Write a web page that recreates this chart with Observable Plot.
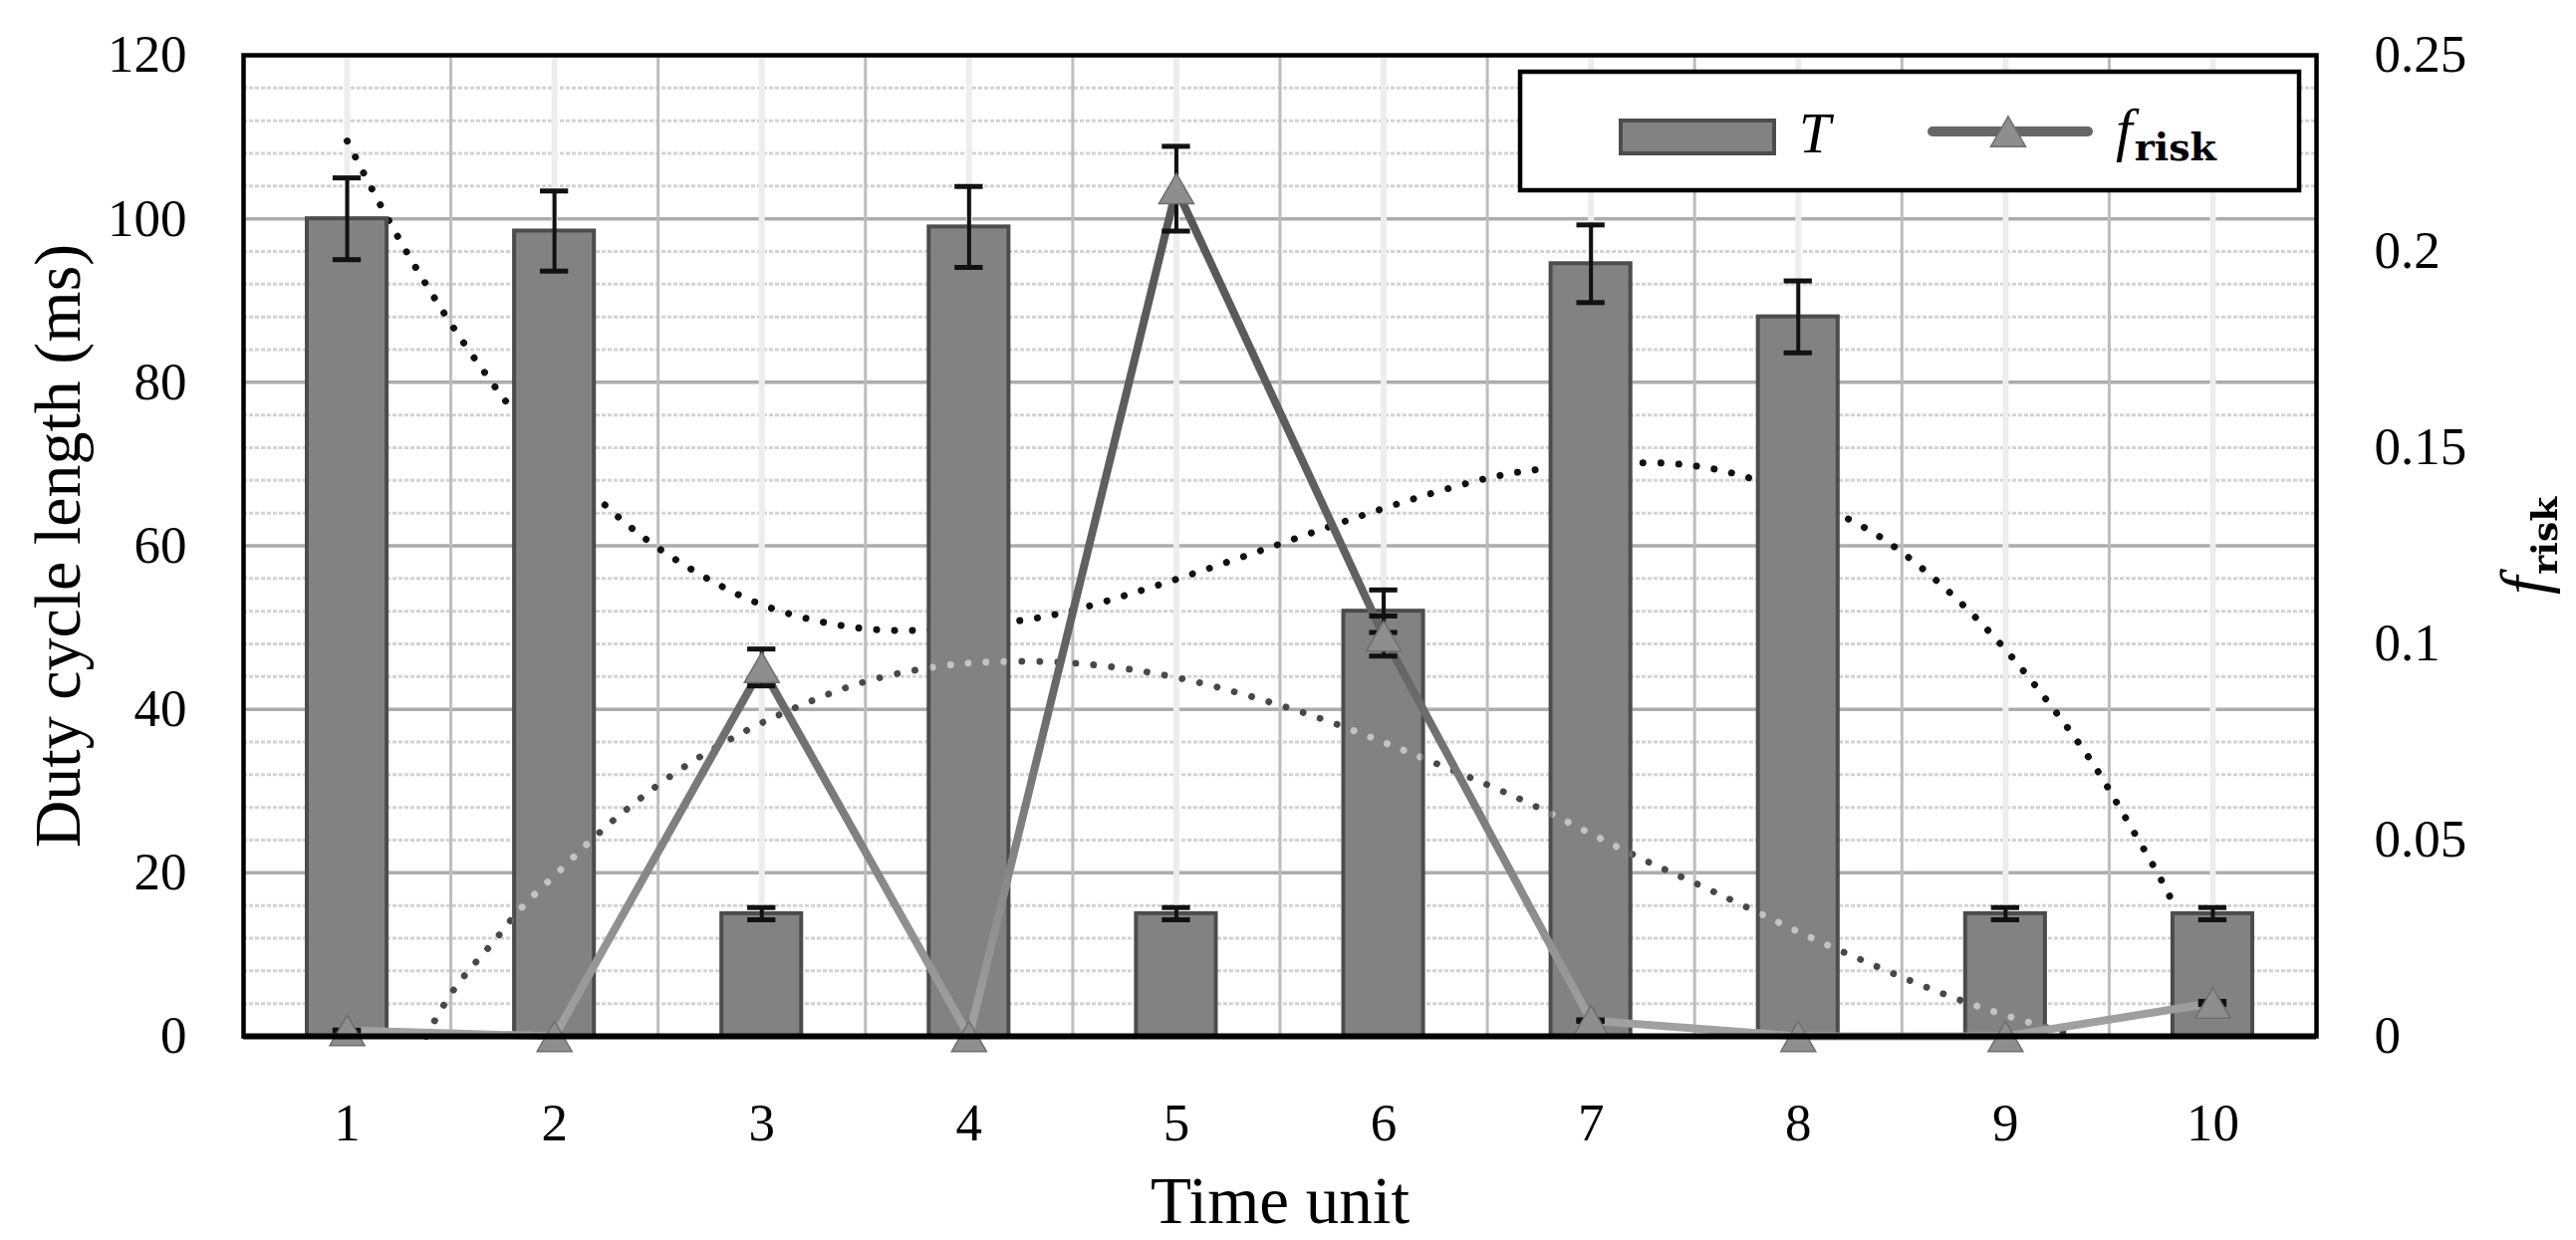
<!DOCTYPE html>
<html>
<head>
<meta charset="utf-8">
<script src="https://cdn.jsdelivr.net/npm/d3@7"></script>
<script src="https://cdn.jsdelivr.net/npm/@observablehq/plot@0.6"></script>
<style>
  html, body { margin: 0; padding: 0; background: #fff; }
  #wrap { position: relative; width: 2586px; height: 1245px; font-family: "Liberation Serif", "Times New Roman", serif; }
  #wrap svg.overlay { position: absolute; left: 0; top: 0; pointer-events: none; }
</style>
</head>
<body>
<div id="wrap"></div>
<script>
// ---------------- data ----------------
const timeUnits   = [1, 2, 3, 4, 5, 6, 7, 8, 9, 10];
const xTickLabels = ["1", "2", "3", "4", "5", "6", "7", "8", "9", "10"];

// Duty cycle length T (ms) and its error
const T     = [100, 98.5, 15, 99, 15, 52, 94.5, 88, 15, 15];
const T_err = [5, 4.9, 0.75, 4.95, 0.75, 2.6, 4.75, 4.4, 0.75, 0.75];

// f_risk (right axis) and its error
const fRisk     = [0.0015, 0, 0.094, 0, 0.216, 0.102, 0.004, 0, 0, 0.0085];
const fRisk_err = [0.0001, 0, 0.0047, 0, 0.0108, 0.0051, 0.0002, 0, 0, 0.0004];

// left axis ticks, right axis ticks
const yTicks      = [0, 20, 40, 60, 80, 100, 120];
const fTicks      = [0, 0.05, 0.1, 0.15, 0.2, 0.25];
const fTickLabels = ["0", "0.05", "0.1", "0.15", "0.2", "0.25"];

// trendline of T (black dotted) (left-axis units)
const trendT_x = [1.0, 1.16, 1.29, 1.43, 1.57, 1.73, 1.78, 2.20, 2.47, 2.77, 3.0, 3.25, 3.50, 3.77, 4.20, 4.46, 4.78, 5.11, 5.52, 6.0, 6.49, 6.75, 7.28, 7.53, 7.79, 8.27, 8.49, 8.76, 9.0, 9.22, 9.43, 9.56, 9.74, 9.82];
const trendT_y = [109.5, 101.6, 95.7, 89.9, 84.4, 78.9, 77, 65.7, 60, 55.4, 52.6, 50.8, 49.7, 49.5, 50.6, 51.7, 54.1, 56.8, 60.4, 64.7, 68.4, 69.5, 70.4, 69.8, 68.4, 63.2, 59.6, 53.8, 47.5, 40.5, 33.3, 27.5, 19.8, 15.7];

// trendline of f_risk (grey dotted) (right-axis units)
const trendF_x = [1.38, 1.50, 1.61, 1.73, 1.83, 2.03, 2.21, 2.41, 2.62, 2.92, 3.17, 3.40, 3.64, 3.90, 4.08, 4.34, 4.69, 5.02, 5.35, 5.69, 6.01, 6.33, 6.67, 6.96, 7.28, 7.45, 7.76, 8.07, 8.39, 8.70, 9.0, 9.35];
const trendF_y = [0, 0.0114, 0.0183, 0.0254, 0.0327, 0.0423, 0.0519, 0.0606, 0.0688, 0.0781, 0.0840, 0.0890, 0.0925, 0.0948, 0.0954, 0.0958, 0.0944, 0.0915, 0.0869, 0.0813, 0.0748, 0.0679, 0.0604, 0.0527, 0.0442, 0.0404, 0.0327, 0.0248, 0.0175, 0.0106, 0.0052, 0];

// ---------------- build ----------------
const fToY = d3.scaleLinear([0, 0.25], [0, 120]);   // right axis -> left axis units
const bars   = timeUnits.map((t, i) => ({t, v: T[i], e: T_err[i]}));
const risk   = timeUnits.map((t, i) => ({t, f: fRisk[i], e: fRisk_err[i]}));
const trendA = trendT_x.map((x, i) => ({x, y: trendT_y[i]}));
const trendB = trendF_x.map((x, i) => ({x, y: fToY(trendF_y[i])}));
const majorY = yTicks.filter(v => v > 0 && v < 120);
const minorY = d3.range(4, 120, 4).filter(v => v % 20 !== 0);
const bounds = timeUnits.slice(0, -1).map(t => t + 0.5);
const labelMap = new Map(fTicks.map((f, i) => [fToY(f), fTickLabels[i]]));
const capHalf = 0.068;

// triangle centred on its bounding box (like the spreadsheet marker)
const triSym = {
  draw(ctx, size) {
    const w = Math.sqrt(size * 4 / Math.sqrt(3));
    const h = w * Math.sqrt(3) / 2;
    ctx.moveTo(0, -h / 2);
    ctx.lineTo(w / 2, h / 2);
    ctx.lineTo(-w / 2, h / 2);
    ctx.closePath();
  }
};

const dotted = {x: "x", y: "y", curve: "basis", strokeWidth: 7, strokeDasharray: "0.01 18", strokeLinecap: "round"};

const chart = Plot.plot({
  width: 2586, height: 1245,
  marginLeft: 244, marginRight: 261, marginTop: 55, marginBottom: 205,
  style: {fontFamily: '"Liberation Serif", "Times New Roman", serif', background: "white", overflow: "visible", color: "black"},
  x: {type: "linear", domain: [0.5, 10.5], axis: null},
  y: {domain: [0, 120], axis: null},
  marks: [
    Plot.ruleY(minorY, {stroke: "#d3d3d3", strokeWidth: 3, strokeDasharray: "4 2"}),
    Plot.ruleY(majorY, {stroke: "#acacac", strokeWidth: 3.5}),
    Plot.ruleX(timeUnits, {stroke: "#ededed", strokeWidth: 6}),
    Plot.ruleX(bounds, {stroke: "#bdbdbd", strokeWidth: 3}),
    Plot.line(trendA, {...dotted, stroke: "#111"}),
    Plot.line(trendB, {...dotted, stroke: "#303030"}),
    Plot.rectY(bars, {x1: d => d.t - 0.5, x2: d => d.t + 0.5, y1: 0, y2: "v",
      insetLeft: 64, insetRight: 64, fill: "#828282", stroke: "#4c4c4c", strokeWidth: 4}),
    Plot.line(trendB, {...dotted, stroke: "#555555", mixBlendMode: "color-dodge"}),
    Plot.ruleX(bars, {x: "t", y1: d => d.v - d.e, y2: d => d.v + d.e, stroke: "#111", strokeWidth: 4}),
    Plot.ruleY(bars, {y: d => d.v + d.e, x1: d => d.t - capHalf, x2: d => d.t + capHalf, stroke: "#111", strokeWidth: 5}),
    Plot.ruleY(bars, {y: d => d.v - d.e, x1: d => d.t - capHalf, x2: d => d.t + capHalf, stroke: "#111", strokeWidth: 5}),
    Plot.line(risk, {x: "t", y: d => fToY(d.f), stroke: "url(#fgrad)", strokeWidth: 8,
      strokeLinejoin: "miter", strokeMiterlimit: 20}),
    Plot.ruleX(risk, {x: "t", y1: d => fToY(d.f - d.e), y2: d => fToY(d.f + d.e), stroke: "#111", strokeWidth: 4}),
    Plot.ruleY(risk, {y: d => fToY(d.f + d.e), x1: d => d.t - capHalf, x2: d => d.t + capHalf, stroke: "#111", strokeWidth: 5}),
    Plot.ruleY(risk, {y: d => fToY(d.f - d.e), x1: d => d.t - capHalf, x2: d => d.t + capHalf, stroke: "#111", strokeWidth: 5}),
    Plot.dot(risk, {x: "t", y: d => fToY(d.f), symbol: triSym, r: 13, fill: "#8e8e8e", stroke: "#6e6e6e", strokeWidth: 1.5}),
    Plot.frame({stroke: "#000", strokeWidth: 4.5}),
    Plot.ruleY([0], {stroke: "#000", strokeWidth: 6}),
    Plot.axisX(timeUnits, {anchor: "bottom", tickSize: 0, tickPadding: 67, fontSize: 53,
      tickFormat: d => xTickLabels[timeUnits.indexOf(d)], label: null}),
    Plot.axisY(yTicks, {anchor: "left", tickSize: 0, tickPadding: 57, fontSize: 53, label: null}),
    Plot.axisY(fTicks.map(fToY), {anchor: "right", tickSize: 0, tickPadding: 58, fontSize: 53,
      tickFormat: d => labelMap.get(d), label: null}),
    Plot.text(["Duty cycle length (ms)"], {text: d => d, frameAnchor: "left", dx: -186, rotate: -90,
      textAnchor: "middle", lineAnchor: "middle", fontSize: 66}),
    Plot.text(["Time unit"], {text: d => d, frameAnchor: "bottom", dy: 166,
      textAnchor: "middle", lineAnchor: "middle", fontSize: 67})
  ]
});

// gradient for the f_risk line (dark at top, lighter towards the bottom)
const defs = d3.select(chart).insert("defs", ":first-child");
const grad = defs.append("linearGradient").attr("id", "fgrad")
  .attr("x1", 0).attr("y1", 0).attr("x2", 0).attr("y2", 1);
grad.append("stop").attr("offset", "0").attr("stop-color", "#575757");
grad.append("stop").attr("offset", "0.55").attr("stop-color", "#636363");
grad.append("stop").attr("offset", "1").attr("stop-color", "#a2a2a2");

const wrap = document.getElementById("wrap");
wrap.appendChild(chart);

// overlay: legend box and right-axis title
const ov = d3.select(wrap).append("svg").attr("class", "overlay")
  .attr("width", 2586).attr("height", 1245)
  .style("font-family", '"Liberation Serif", "Times New Roman", serif');

const lg = ov.append("g").attr("transform", "translate(1524,70)");
lg.append("rect").attr("x", 2).attr("y", 2).attr("width", 782).attr("height", 119)
  .attr("fill", "white").attr("stroke", "black").attr("stroke-width", 4.5);
lg.append("rect").attr("x", 103).attr("y", 51).attr("width", 154).attr("height", 33)
  .attr("fill", "#828282").attr("stroke", "#4c4c4c").attr("stroke-width", 4);
lg.append("text").attr("x", 282).attr("y", 83).attr("font-style", "italic").attr("font-size", 57).text("T");
lg.append("line").attr("x1", 416).attr("x2", 572).attr("y1", 62).attr("y2", 62)
  .attr("stroke", "#666").attr("stroke-width", 10).attr("stroke-linecap", "round");
lg.append("path").attr("transform", "translate(492,62)")
  .attr("d", d3.symbol(triSym, 13 * 13 * Math.PI)())
  .attr("fill", "#8e8e8e").attr("stroke", "#6e6e6e").attr("stroke-width", 1.5);
const lt = lg.append("text").attr("x", 600).attr("y", 80);
lt.append("tspan").attr("font-style", "italic").attr("font-size", 60).text("f");
lt.append("tspan").attr("font-family", '"DejaVu Serif", serif').attr("font-weight", "bold")
  .attr("font-size", 38).attr("dy", 11).attr("dx", 2).text("risk");

const rt = ov.append("text").attr("transform", "translate(2556,548) rotate(-90)").attr("text-anchor", "middle");
rt.append("tspan").attr("font-style", "italic").attr("font-size", 66).text("f");
rt.append("tspan").attr("font-family", '"DejaVu Serif", serif').attr("font-weight", "bold")
  .attr("font-size", 36).attr("dy", 11).attr("dx", 2).text("risk");
</script>
</body>
</html>
